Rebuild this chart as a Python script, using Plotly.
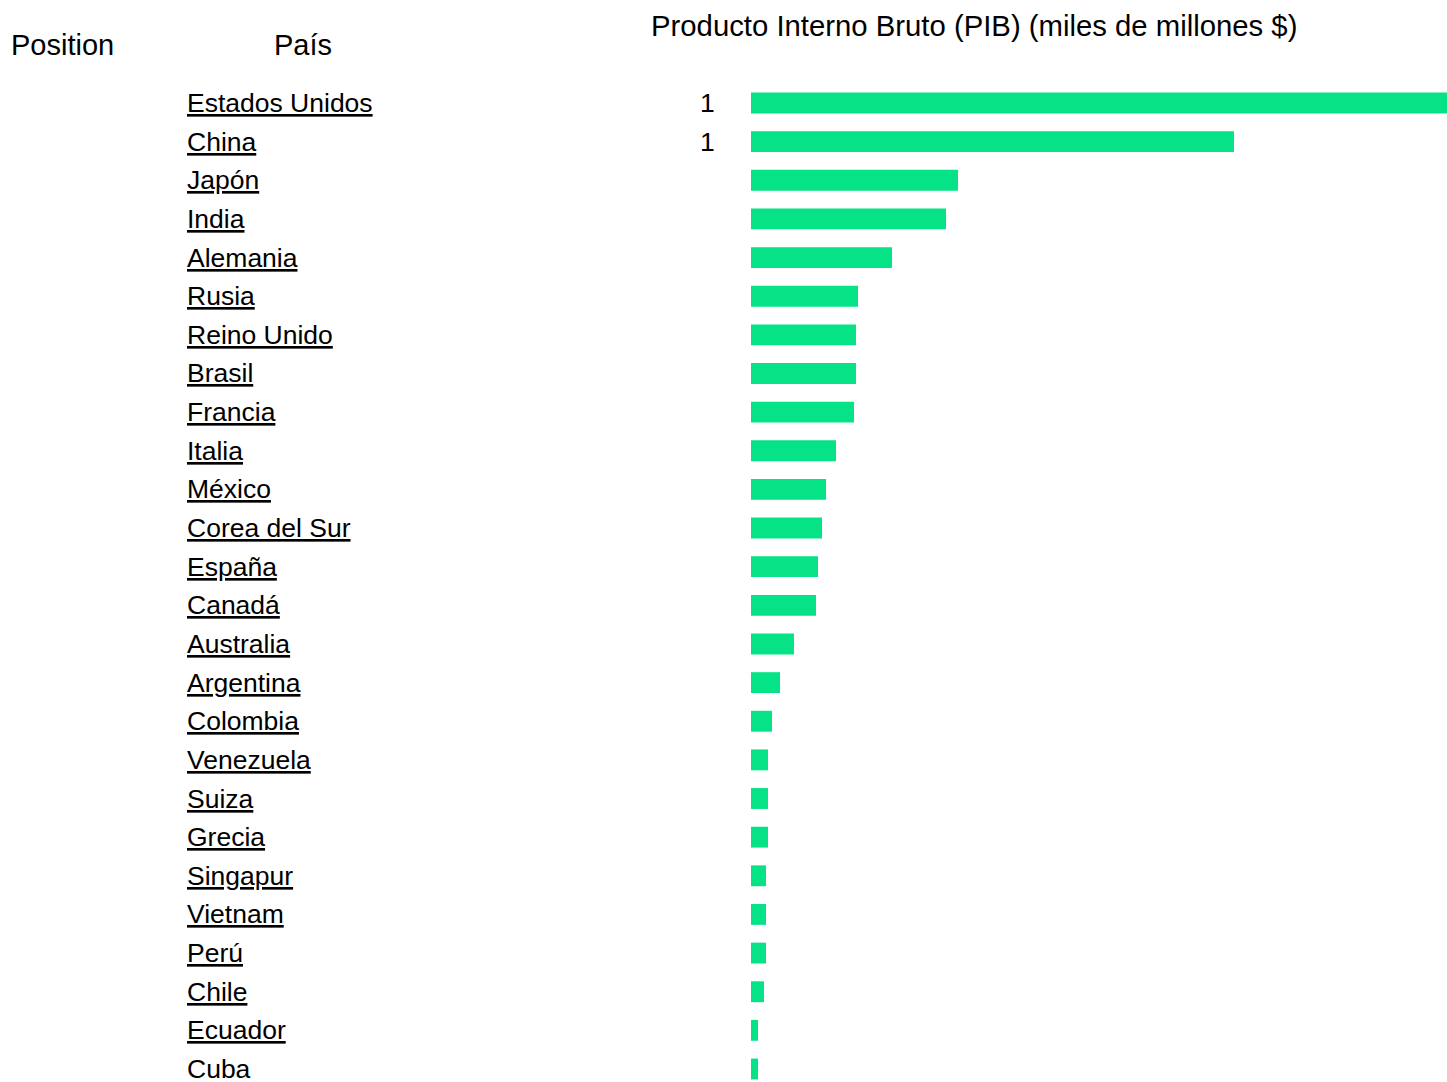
import plotly.graph_objects as go

# GDP, billions of USD
paises = [
    "Estados Unidos", "China", "Japón", "India", "Alemania", "Rusia",
    "Reino Unido", "Brasil", "Francia", "Italia", "México", "Corea del Sur",
    "España", "Canadá", "Australia", "Argentina", "Colombia", "Venezuela",
    "Suiza", "Grecia", "Singapur", "Vietnam", "Perú", "Chile", "Ecuador", "Cuba",
]
pib = [
    21400, 14850, 6365, 5996, 4336, 3290,
    3229, 3229, 3167, 2614, 2306, 2183,
    2060, 1999, 1322, 892, 646, 523,
    523, 523, 461, 461, 461, 400, 215, 215,
]
posicion = ["1", "1"] + [""] * (len(paises) - 2)

W, H = 1447, 1082
FONT = "Liberation Sans, Arial, sans-serif"
GREEN = "#06E386"

fig = go.Figure()
fig.add_trace(
    go.Bar(
        x=pib,
        y=paises,
        orientation="h",
        marker=dict(color=GREEN, line=dict(width=0)),
        width=0.54,
        showlegend=False,
        hoverinfo="x+y",
    )
)

# country names (underlined, like links) and position column
for p, pos in zip(paises, posicion):
    fig.add_annotation(
        x=185 / W, xref="paper", y=p, yref="y",
        text=p, showarrow=False, xanchor="left", yanchor="middle",
        font=dict(size=26.5, color="black", family=FONT,
                  lineposition="under" if p != "Cuba" else "none"),
    )
    if pos:
        fig.add_annotation(
            x=707 / W, xref="paper", y=p, yref="y",
            text=pos, showarrow=False, xanchor="center", yanchor="middle",
            font=dict(size=26.5, color="black", family=FONT),
        )

# column headers
fig.add_annotation(x=9 / W, y=1 - 45 / H, xref="paper", yref="paper",
                   text="Position", showarrow=False, xanchor="left", yanchor="middle",
                   font=dict(size=29, color="black", family=FONT))
fig.add_annotation(x=303 / W, y=1 - 45 / H, xref="paper", yref="paper",
                   text="País", showarrow=False, xanchor="center", yanchor="middle",
                   font=dict(size=29, color="black", family=FONT))
fig.add_annotation(x=974 / W, y=1 - 26 / H, xref="paper", yref="paper",
                   text="Producto Interno Bruto (PIB) (miles de millones $)",
                   showarrow=False, xanchor="center", yanchor="middle",
                   font=dict(size=29.3, color="black", family=FONT))

row = 38.64
top_idx = -103 / row
bot_idx = (H - 103) / row

fig.update_xaxes(domain=[751 / W, 1], range=[0, max(pib)], visible=False, fixedrange=True)
fig.update_yaxes(domain=[0, 1], type="category", categoryorder="array", categoryarray=paises,
                 range=[bot_idx, top_idx], visible=False, fixedrange=True)
fig.update_layout(
    width=W, height=H,
    margin=dict(l=0, r=0, t=0, b=0),
    paper_bgcolor="white", plot_bgcolor="white",
    font=dict(family=FONT),
)

fig.write_html(
    "out.html",
    config={"displayModeBar": False},
    post_script="document.body.style.margin='0';document.body.style.overflow='hidden';",
)
